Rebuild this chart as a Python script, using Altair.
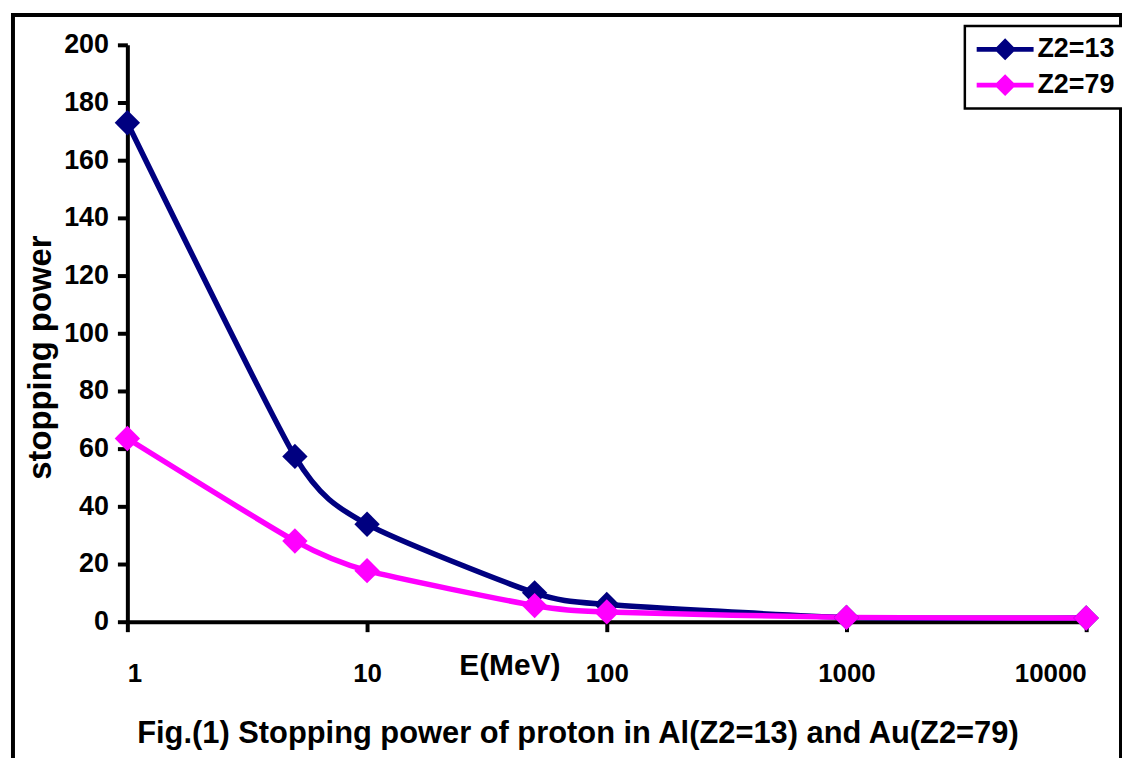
import altair as alt
import pandas as pd

energy = [1, 5, 10, 50, 100, 1000, 10000]
z13 = [173, 57.3, 33.8, 10.0, 6.0, 1.5, 1.3]
z79 = [63.5, 28.0, 17.7, 5.6, 3.4, 1.5, 1.3]
series_names = ["Z2=13", "Z2=79"]
series_colors = ["#000080", "#FF00FF"]
x_ticks = [1, 10, 100, 1000, 10000]
y_ticks = list(range(0, 201, 20))

rows = []
for name, vals in zip(series_names, [z13, z79]):
    for e, v in zip(energy, vals):
        rows.append({"E": e, "S": v, "series": name})
df = pd.DataFrame(rows)

FONT = "Liberation Sans, Arial, sans-serif"

xenc = alt.X("E:Q", scale=alt.Scale(type="log", domain=[1, 10000], nice=False),
             axis=alt.Axis(values=x_ticks, format=".0f", title="E(MeV)",
                           labelPadding=29, labelFontSize=26, titleX=384, titleY=44,
                           titleBaseline="middle", titleAlign="center",
                           titleFont=FONT, titleFontSize=30, titleFontWeight="bold"))
yenc = alt.Y("S:Q", scale=alt.Scale(domain=[0, 200], nice=False),
             axis=alt.Axis(values=y_ticks, title="stopping power", labelPadding=9,
                           labelFontSize=27,
                           titleAngle=270, titleX=-87, titleY=314,
                           titleBaseline="middle", titleAlign="center",
                           titleFont=FONT, titleFontSize=33, titleFontWeight="bold"))
color_scale = alt.Scale(domain=series_names, range=series_colors)

legend_path = ("M-2.6,-0.22 L-0.78,-0.22 L0,-1 L0.78,-0.22 L2.6,-0.22 L2.6,0.22 "
               "L0.78,0.22 L0,1 L-0.78,0.22 L-2.6,0.22 Z")
legend = alt.Legend(title=None, orient="none", legendX=842, legendY=-19,
                    symbolType=legend_path, symbolSize=484,
                    symbolOffset=17, labelOffset=19, padding=10,
                    rowPadding=8, strokeColor="black",
                    fillColor="white", labelFont=FONT,
                    labelFontSize=27, labelFontWeight="bold",
                    labelColor="black", symbolStrokeWidth=0,
                    symbolOpacity=1)
color_enc = alt.Color("series:N", scale=color_scale, legend=legend)

lines = alt.Chart(df).mark_line(interpolate="cardinal", tension=0.35, strokeWidth=5.5).encode(
    x=xenc, y=yenc, color=color_enc, order=alt.Order("E:Q"),
)
points = alt.Chart(df).mark_point(shape="diamond", filled=True, size=650, opacity=1).encode(
    x=xenc, y=yenc, color=color_enc,
)
border = alt.Chart(pd.DataFrame({"a": [0]})).mark_rect(
    fill="white", fillOpacity=0, stroke="black", strokeWidth=4
).encode(x=alt.value(-115), x2=alt.value(999), y=alt.value(-30), y2=alt.value(720))

chart = alt.layer(border, lines, points).properties(
    width=964, height=580,
    autosize=alt.AutoSizeParams(type="none"),
    padding={"left": 120, "top": 35, "right": 36, "bottom": 135},
    title=alt.TitleParams(
        text="Fig.(1) Stopping power of proton in Al(Z2=13) and Au(Z2=79)",
        orient="bottom", anchor="middle", frame="group", offset=-44, dx=-29,
        font=FONT, fontSize=31, fontWeight="bold", color="black"),
).configure_axis(
    domainColor="black", domainWidth=4, tickColor="black", tickWidth=4, tickSize=10,
    labelFont=FONT, labelFontWeight="bold", labelColor="black",
    titleColor="black", grid=False,
).configure_legend(strokeWidth=2.5).configure_view(stroke="transparent")

chart.save("out.html", embed_options={"renderer": "svg", "actions": False})
